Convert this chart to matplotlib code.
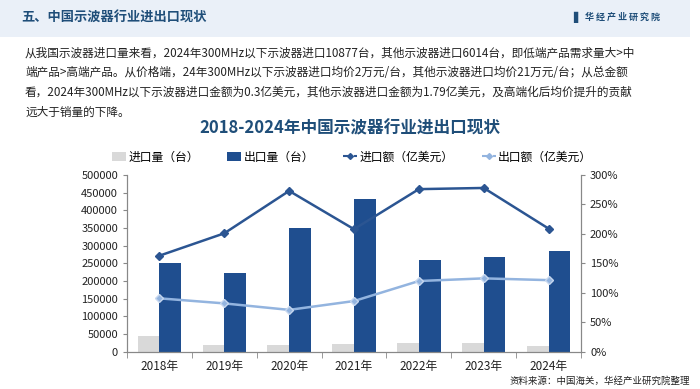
import matplotlib

matplotlib.use("Agg")
import matplotlib.pyplot as plt
from matplotlib.lines import Line2D
from matplotlib.patches import Patch, Rectangle
from matplotlib.ticker import PercentFormatter
import numpy as np

plt.rcParams["font.family"] = ["Noto Sans CJK SC", "DejaVu Sans"]

# Data
years = ["2018年", "2019年", "2020年", "2021年", "2022年", "2023年", "2024年"]
import_qty = [44400, 18500, 18500, 21800, 25500, 25500, 16891]          # 台
export_qty = [250000, 222000, 350500, 433000, 259500, 267000, 285000]   # 台
import_value = [1.63, 2.01, 2.73, 2.08, 2.76, 2.78, 2.09]               # 亿美元
export_value = [0.906, 0.82, 0.71, 0.86, 1.20, 1.245, 1.215]            # 亿美元

C_GRAY = "#d9d9d9"
C_BAR = "#1f4e8f"
C_LINE_DARK = "#2b5592"
C_LINE_LIGHT = "#93b4df"
C_TITLE = "#1f4e79"

fig = plt.figure(figsize=(7.0, 3.89), dpi=100)

# header band
fig.patches.append(Rectangle((0.0, 1 - 37 / 389), 0.985, 37 / 389, transform=fig.transFigure,
                             facecolor="#eaf0f8", edgecolor="none", zorder=0))
fig.text(21 / 700, 1 - 18 / 389, "五、中国示波器行业进出口现状", fontsize=9.5, fontweight="bold",
         color=C_TITLE, va="center", ha="left")
fig.text(573 / 700, 1 - 17 / 389, "▌", fontsize=8, color=C_TITLE, va="center", ha="left",
         family=["DejaVu Sans"])
fig.text(585 / 700, 1 - 17 / 389, "华 经 产 业 研 究 院", fontsize=6.5, fontweight="bold",
         color=C_TITLE, va="center", ha="left")

para = [
    "从我国示波器进口量来看，2024年300MHz以下示波器进口10877台，其他示波器进口6014台，即低端产品需求量大>中",
    "端产品>高端产品。从价格端，24年300MHz以下示波器进口均价2万元/台，其他示波器进口均价21万元/台；从总金额",
    "看，2024年300MHz以下示波器进口金额为0.3亿美元，其他示波器进口金额为1.79亿美元，及高端化后均价提升的贡献",
    "远大于销量的下降。",
]
for i, line in enumerate(para):
    fig.text(25 / 700, 1 - (53 + i * 19.7) / 389, line, fontsize=8.4, color="#222222",
             va="center", ha="left")

fig.text(350 / 700, 1 - 128 / 389, "2018-2024年中国示波器行业进出口现状", fontsize=12,
         fontweight="bold", color=C_TITLE, va="center", ha="center")

ax = fig.add_axes([127 / 700, 1 - 351.7 / 389, 454 / 700, 176.7 / 389])
ax2 = ax.twinx()

x = np.arange(len(years))
w = 0.335
ax.bar(x - w / 2, import_qty, width=w, color=C_GRAY, zorder=2)
ax.bar(x + w / 2, export_qty, width=w, color=C_BAR, zorder=2)
ax.set_ylim(0, 500000)
ax.set_yticks(np.arange(0, 500001, 50000))
ax.set_xlim(-0.5, len(years) - 0.5)
ax.set_xticks(x)
ax.set_xticklabels(years)

ax2.plot(x, import_value, color=C_LINE_DARK, lw=1.8, marker="D", ms=4, zorder=3)
ax2.plot(x, export_value, color=C_LINE_LIGHT, lw=1.8, marker="D", ms=4,
         markeredgecolor="#c5d6ee", zorder=3)
ax2.set_ylim(0, 3.0)
ax2.set_yticks(np.arange(0, 3.01, 0.5))
ax2.yaxis.set_major_formatter(PercentFormatter(xmax=1, decimals=0))

for a in (ax, ax2):
    a.spines["top"].set_visible(False)
    for s in ("left", "right", "bottom"):
        a.spines[s].set_color("#888888")
    a.tick_params(labelsize=8, colors="#222222", length=3, color="#888888")
ax.tick_params(axis="x", labelsize=8.5, pad=6)
ax.set_xticks(np.arange(-0.5, len(years), 1), minor=True)
ax.tick_params(axis="x", which="major", length=0)
ax.tick_params(axis="x", which="minor", length=4, color="#888888")

handles = [
    Patch(facecolor=C_GRAY, label="进口量（台）"),
    Patch(facecolor=C_BAR, label="出口量（台）"),
    Line2D([], [], color=C_LINE_DARK, lw=1.5, ls="--", marker="D", ms=3, label="进口额（亿美元）"),
    Line2D([], [], color=C_LINE_LIGHT, lw=1.5, ls="--", marker="D", ms=3, label="出口额（亿美元）"),
]
fig.legend(handles=handles, loc="center", bbox_to_anchor=(352 / 700, 1 - 157 / 389), ncol=4,
           frameon=False, fontsize=8.5, handlelength=1.2, handleheight=0.7, handletextpad=0.2,
           columnspacing=2.4)

fig.text(690 / 700, 1 - 381 / 389, "资料来源：中国海关，华经产业研究院整理", fontsize=6.8,
         color="#222222", va="center", ha="right")

fig.savefig("out.png", dpi=100, facecolor="white")
